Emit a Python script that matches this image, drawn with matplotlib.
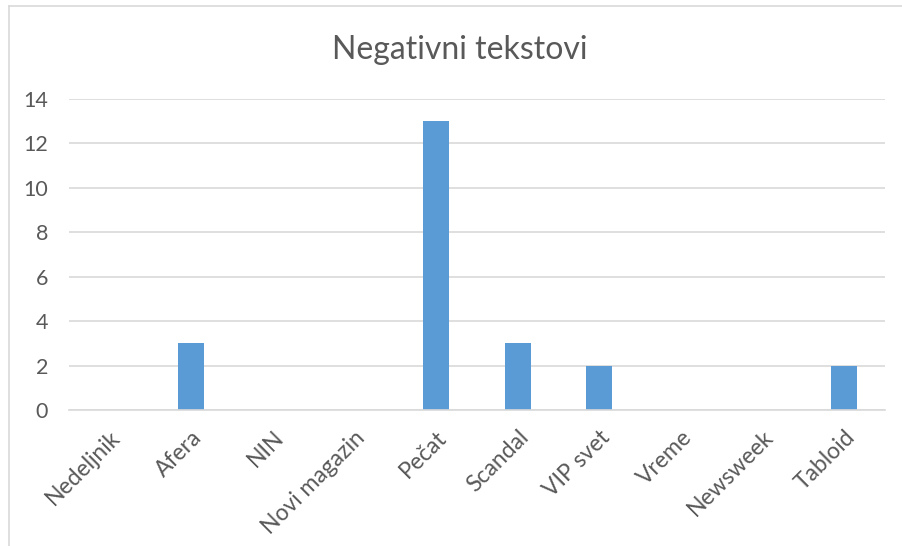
import matplotlib.pyplot as plt
from matplotlib.lines import Line2D

# podaci
casopisi = ['Nedeljnik', 'Afera', 'NIN', 'Novi magazin', 'Pečat',
            'Scandal', 'VIP svet', 'Vreme', 'Newsweek', 'Tabloid']
negativni = [0, 3, 0, 0, 13, 3, 2, 0, 0, 2]
y_ticks = [0, 2, 4, 6, 8, 10, 12, 14]

plt.rcParams['font.family'] = ['Lato', 'DejaVu Sans']
siva = '#595959'

fig = plt.figure(figsize=(9.02, 5.46), dpi=100)
ax = fig.add_axes([69/902, (546-410)/546, (885-69)/902, (410-99)/546])

x = range(len(casopisi))
ax.bar(x, negativni, width=0.32, color='#5B9BD5', zorder=3)

ax.set_xlim(-0.5, len(casopisi) - 0.5)
ax.set_ylim(0, 14)
ax.set_yticks(y_ticks)
ax.set_yticklabels([str(v) for v in y_ticks], color=siva, fontsize=15.5)
ax.set_xticks(list(x))
ax.set_xticklabels(casopisi, rotation=45, ha='right', rotation_mode='anchor',
                   color=siva, fontsize=16.5)
ax.tick_params(axis='y', length=0, pad=15)
ax.tick_params(axis='x', length=0, pad=12)

ax.grid(axis='y', color='#D9D9D9', linewidth=1.2, zorder=0)
for s in ['top', 'right', 'left']:
    ax.spines[s].set_visible(False)
ax.spines['bottom'].set_color('#D9D9D9')
ax.spines['bottom'].set_linewidth(1.2)
ax.spines['bottom'].set_zorder(4)

fig.text(460/902, 1 - 50/546, 'Negativni tekstovi', ha='center', va='center',
         fontsize=23, color=siva)

# okvir grafikona
fig.add_artist(Line2D([9/902, 1], [1 - 6/546, 1 - 6/546], color='#D9D9D9', lw=1.2))
fig.add_artist(Line2D([9/902, 9/902], [0, 1 - 6/546], color='#D9D9D9', lw=1.2))

fig.savefig('out.png', dpi=100)
